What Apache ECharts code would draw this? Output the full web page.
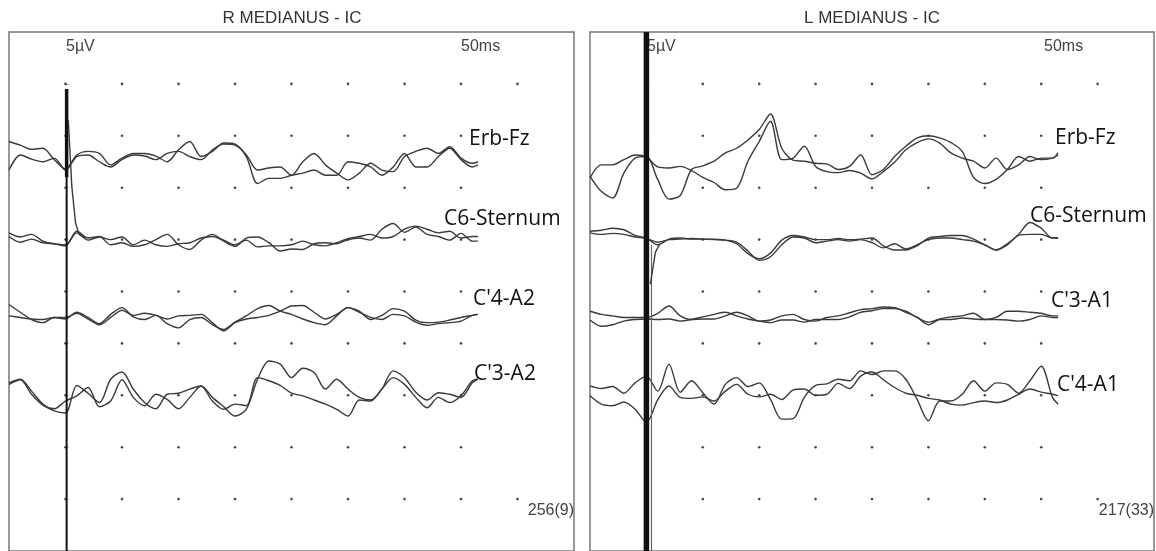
<!DOCTYPE html>
<html>
<head>
<meta charset="utf-8">
<script src="https://cdn.jsdelivr.net/npm/echarts@6/dist/echarts.min.js"></script>
<style>
  html, body { margin: 0; padding: 0; background: #fff; }
  #chart { width: 1156px; height: 551px; }
</style>
</head>
<body>
<div id="chart"></div>
<script>
// time base in ms (stimulus at 0), 1 ms steps, sweep end at 36.5
const timeMs = [-5,-4,-3,-2,-1,0,1,2,3,4,5,6,7,8,9,10,11,12,13,14,15,16,17,18,19,20,21,22,23,24,25,26,27,28,29,30,31,32,33,34,35,36,36.5];

// grid dots / ticks
const dotTimes = [0, 5, 10, 15, 20, 25, 30, 35, 40];
const dotLevels = [5, 10, 15, 20, 25, 30, 35, 40, 45];

// channel names and baselines (µV on the panel scale, 5 µV / div)
const rChannels = ['Erb-Fz', 'C6-Sternum', "C'4-A2", "C'3-A2"];
const lChannels = ['Erb-Fz', 'C6-Sternum', "C'3-A1", "C'4-A1"];
const rOffsets = [38, 30, 22.5, 15];
const lOffsets = [37, 30, 22.5, 15];

// R MEDIANUS - IC, two superimposed runs per channel (µV)
const R_ERB_1 = [1.45,1.1,0.7,0.8,-0.3,-1.2, 0.15,0.5,0.3,-0.8,-0.15,0.3,0.3,0.05,-0.5,0.65, 1.45,0,0.5,1.3,1.2,0.15,-1.3,-1.1,-1,-1.8, -0.5,0.3,-0.8,-1.6,-2.25,-1.6,-0.65,-1.3,-1.45,0, 0.5,0.8,0.3,0.95,-0.15,-0.65,-0.5];
const R_ERB_2 = [-1.3,0.15,-0.25,-0.5,-0.15,-1.3, 0,0.15,-0.5,-1,-0.3,0.15,0.05,-0.3,0.3,0.5, 0,-0.3,0.65,1.2,1.1,0,-2.6,-2.1,-2.1,-1.8, -1.6,-1.3,-1.8,-1.8,-0.5,-0.65,-1,-1.8,-1,0.3, -1,-1,0,0.8,-0.3,-1,-0.8];
const R_C6_1 = [0.65,0.25,0.5,-0.15,-0.4,-0.6, 0.8,0.15,0.3,-0.5,-0.3,-0.65,-0.5,0,0.5,-0.5, -0.95,-0.05,0.5,-0.15,-0.65,0.15,0.25,-0.3,-1.1,-0.9, -0.95,-0.4,-0.3,-0.4,0,0.15,-0.05,1,1.55,0.7, 1.2,0.5,0.3,-0.05,0.6,-0.15,-0.15];
const R_C6_2 = [0.3,-0.25,0.05,-0.3,-0.4,-0.5, 0.65,-0.05,0.25,0,0.25,-0.5,-0.05,-0.5,-0.65,-0.4, -0.3,0.15,0.3,-0.05,-0.5,-0.05,-0.7,-0.6,-0.6,-0.5, -0.15,-0.5,-0.6,-0.3,0.1,0.3,0.5,0.15,0.3,1, 1.3,1,0.65,0.8,0.15,0.3,0.3];
const R_C4_1 = [1.25,0.5,-0.2,-0.5,0,-0.15, 0.5,0,-0.6,0.3,0.95,0.05,-0.2,0.2,-0.6,-1, -0.2,0,-0.7,-1.15,-0.45,0.15,0.85,1.15,0.6,0.3, -0.15,-0.5,-0.7,0.15,0.95,0.6,-0.2,0.2,0.85,0.6, -0.25,-0.5,-0.45,-0.25,0,0.2,0.3];
const R_C4_2 = [0.15,0,-0.15,-0.2,0,0, 0.4,-0.15,-0.7,0,0.7,0.2,0.4,0.2,-0.15,0.15, 0.2,0.3,-0.5,-1.3,-0.5,-0.15,0,0.2,0.6,1.1, 1.15,0.5,-0.15,0.3,0.95,0.5,0,-0.2,0.3,0.15, -0.45,-0.75,-0.6,-0.5,-0.35,0.2,0.3];
const R_C3_1 = [1.2,1.55,0.4,-0.85,-1.5,-1.7, 0.95,0.2,-0.7,1.55,2.25,0.6,-0.7,-1.3,0.1,0.2, 0.6,0.9,-0.2,-1.1,-2,-1.35,1.55,3.3,3,1.7, 2.6,2.2,0.6,1.55,0.6,-0.2,-0.45,0.6,2.35,1.7, 0.3,-0.45,0.25,0.1,-0.2,1.2,1.55];
const R_C3_2 = [1.05,1.5,0.1,-0.95,-1.3,-0.55, -0.05,0.75,-1.1,-0.55,1.5,-0.2,-1,0.1,-0.4,-1.3, -0.2,0.9,-0.55,-1.35,-0.85,-1,1.7,1.4,0.95,0.2, -0.05,-0.45,-0.85,-1.35,-2,-0.45,-0.55,0.6,1.7,1.05, -0.2,-1.2,-0.2,-0.7,-0.05,1.4,1.55];

// L MEDIANUS - IC
const L_ERB_1 = [-0.9,-2.35,-3,-0.6,0.85,1, -1.2,-3.1,-2.75,-0.25,0.1,0.55,1.35,1.8,2.6,3.6, 5.1,1.8,0.65,0.55,0.35,0.3,-0.25,0.05,1.15,-0.75, -0.25,1,2,2.8,3,2.8,2.35,1.5,-1,-1.6, -1.2,-0.25,1,0.55,0.85,0.85,1.35];
const L_ERB_2 = [-1.05,0.2,0.2,0.7,1.15,0.95, 0,-0.1,0.05,-0.35,-1,-1.5,-2.2,-2.05,0.55,2.45, 4.4,0.7,0.85,2,0.05,-0.45,-0.55,-0.35,-0.6,-1.15, -0.45,0.45,1.65,2.35,2.7,2.3,1.35,0.85,0.55,-0.1, 0.85,-0.25,0.2,1,0.7,0.85,1.15];
const L_C6_1 = [0.8,0.9,1.1,0.95,0.4,0.15, -0.5,0.05,0.15,0.05,0.05,0.05,-0.05,-0.25,-1.1,-2, -1.65,-0.5,0.25,0.15,-0.3,-0.15,0,-0.15,0,-0.3, -0.8,-0.4,-0.9,-0.5,0,0.15,0.15,0,-0.15,-0.5, -1,-0.4,0.5,1.65,1.1,0.15,0.15];
const L_C6_2 = [0.65,0.5,0.6,0.5,0.25,0.1, -0.25,0,0.05,0.1,0.05,0,-0.05,-0.4,-1.35,-1.85, -1.3,-0.05,0.4,0.25,0,0,0.1,0,0.05,0.15, -0.6,-1,-1,-0.6,0.15,0.3,0.4,0.4,0.05,-0.5, -1,-0.5,0.4,0.5,0.5,0.15,0.15];
const L_C3_1 = [0.6,0.3,0.15,0,0,0, 0.4,1.1,0.15,-0.2,-0.15,-0.15,0.15,0.5,0.15,-0.35, -0.25,0.15,0.3,-0.2,-0.35,0,0.15,0.45,0.75,0.85, 1,0.95,0.5,0,-0.7,-0.15,0.05,0.15,0.4,-0.2, 0,0.6,0.6,0.5,0.4,0.15,0.15];
const L_C3_2 = [-0.25,-0.85,-0.7,-0.35,-0.2,-0.15, -0.2,-0.15,-0.35,-0.2,0.05,0.3,0.5,0.15,-0.15,-0.35, -0.5,-0.25,-0.25,-0.45,-0.2,-0.2,-0.2,0.05,0.5,0.65, 0.85,0.85,0.6,0,-0.45,-0.2,-0.2,-0.05,-0.15,-0.2, -0.2,-0.25,-0.35,-0.2,0.15,0,0];
const L_C4_1 = [0.9,0.65,0.85,0.2,1.2,1.85, 0.4,3,0.3,1.4,0.25,-0.85,1.05,1.7,0.85,1.2, -0.4,-2.3,-2.25,-0.2,0.95,1.1,1.55,1.4,2.35,2, 2.35,2.35,1.55,-0.4,-2.45,-0.55,-0.55,0.1,1.4,0.4, 1.2,1.05,0.2,1.4,2.8,-0.2,-0.85];
const L_C4_2 = [-0.05,-0.85,-1,-0.65,-1.35,-2.6, -0.45,0.9,-0.2,-0.3,-0.15,-0.55,0.4,1.05,0.1,-0.15, 0.1,-0.4,0.5,0.6,0,0.1,1.15,0.65,1.85,2.25, 1.5,0.75,0.2,0,-0.3,-0.45,-0.85,-0.95,-0.7,-0.55, -0.7,-0.45,0.1,0.6,0.3,0.1,-0.05];

// stimulus artifacts, [ms, panel µV]
const R_STIM_LINE = [[0.1, 44.5], [0.1, -1]];
const R_STIM_SPIKE = [[0.1, 44.5], [0.1, 36]];
const R_C6_TAIL = [[0.25, 41.5], [0.56, 35.1], [0.89, 31.6], [1.2, 30.5], [1.7, 30.2]];
const L_STIM_LINE = [[0, 50], [0, -1]];
const L_STIM_SIDE = [[0.45, 29.5], [0.45, -1]];
const L_C6_TAIL = [[0.35, 25.7], [0.8, 28.8], [1.2, 29.6]];

const rRuns = [[R_ERB_1, R_ERB_2], [R_C6_1, R_C6_2], [R_C4_1, R_C4_2], [R_C3_1, R_C3_2]];
const lRuns = [[L_ERB_1, L_ERB_2], [L_C6_1, L_C6_2], [L_C3_1, L_C3_2], [L_C4_1, L_C4_2]];

const TRACE_COLOR = '#3a3a3a';

function buildDots() {
  const pts = [];
  dotLevels.forEach(function (lv) {
    dotTimes.forEach(function (t) {
      // last column only shown on the outer rows (label area)
      if (t === 40 && lv !== 5 && lv !== 45) return;
      pts.push([t, lv]);
    });
  });
  return pts;
}

function traceSeries(runs, offsets, gi) {
  const out = [];
  runs.forEach(function (pair, ch) {
    pair.forEach(function (vals) {
      out.push({
        type: 'line', xAxisIndex: gi, yAxisIndex: gi,
        data: timeMs.map(function (t, i) { return [t, offsets[ch] + vals[i]]; }),
        symbol: 'none', smooth: 0.3,
        lineStyle: { color: TRACE_COLOR, width: 1.4 },
        z: 3
      });
    });
  });
  return out;
}

function plainLine(data, gi, width, color) {
  return {
    type: 'line', xAxisIndex: gi, yAxisIndex: gi, data: data,
    symbol: 'none', smooth: false,
    lineStyle: { color: color, width: width }, z: 4
  };
}

const chart = echarts.init(document.getElementById('chart'), null, { renderer: 'canvas' });

const grids = [
  { left: 9, top: 32, width: 565, height: 520 },
  { left: 590, top: 32, width: 564, height: 520 }
];

function xAxisFor(gi) {
  return {
    gridIndex: gi, type: 'value', min: -5, max: 45, interval: 5, position: 'top',
    axisLine: { show: false }, axisLabel: { show: false }, splitLine: { show: false },
    axisTick: { inside: true, length: 3, lineStyle: { color: '#999' } }
  };
}
function yAxisFor(gi) {
  return {
    gridIndex: gi, type: 'value', min: 0, max: 50, interval: 5,
    axisLine: { show: false }, axisLabel: { show: false }, splitLine: { show: false },
    axisTick: { inside: true, length: 3, lineStyle: { color: '#999' } }
  };
}

const series = [];
[0, 1].forEach(function (gi) {
  series.push({
    type: 'scatter', xAxisIndex: gi, yAxisIndex: gi, data: buildDots(),
    symbol: 'circle', symbolSize: 2.6, itemStyle: { color: '#1a1a1a' }, z: 2, silent: true
  });
});
series.push.apply(series, traceSeries(rRuns, rOffsets, 0));
series.push.apply(series, traceSeries(lRuns, lOffsets, 1));
series.push(plainLine(R_STIM_LINE, 0, 2, '#111'));
series.push(plainLine(R_STIM_SPIKE, 0, 3.5, '#111'));
series.push(plainLine(R_C6_TAIL, 0, 1.4, TRACE_COLOR));
series.push(plainLine(L_STIM_LINE, 1, 5.5, '#111'));
series.push(plainLine(L_STIM_SIDE, 1, 1.2, '#666'));
series.push(plainLine(L_C6_TAIL, 1, 1.4, TRACE_COLOR));

const smallFont = '16px "Liberation Sans", Arial, sans-serif';
const titleFont = '17px "Liberation Sans", Arial, sans-serif';
const chanFont = '21px "Open Sans", sans-serif';

function txt(text, x, y, font, color, align) {
  return {
    type: 'text', z: 1,
    style: { text: text, x: x, y: y, font: font, fill: color, textAlign: align || 'left', textVerticalAlign: 'middle' }
  };
}

const graphics = [
  txt('R MEDIANUS - IC', 292, 18, titleFont, '#333', 'center'),
  txt('L MEDIANUS - IC', 872, 18, titleFont, '#333', 'center'),
  txt('5µV', 66, 47, smallFont, '#444'),
  txt('50ms', 461, 47, smallFont, '#444'),
  txt('5µV', 647, 47, smallFont, '#444'),
  txt('50ms', 1044, 47, smallFont, '#444'),
  txt('256(9)', 574, 511, smallFont, '#444', 'right'),
  txt('217(33)', 1154, 511, smallFont, '#444', 'right'),
  txt(rChannels[0], 469, 139, chanFont, '#111'),
  txt(rChannels[1], 444, 219, chanFont, '#111'),
  txt(rChannels[2], 473, 299, chanFont, '#111'),
  txt(rChannels[3], 474, 374, chanFont, '#111'),
  txt(lChannels[0], 1055, 138, chanFont, '#111'),
  txt(lChannels[1], 1030, 216, chanFont, '#111'),
  txt(lChannels[2], 1051, 301, chanFont, '#111'),
  txt(lChannels[3], 1057, 385, chanFont, '#111')
];

chart.setOption({
  animation: false,
  backgroundColor: '#fff',
  grid: grids.map(function (g) {
    return Object.assign({ show: true, borderColor: '#777', borderWidth: 1.5, backgroundColor: 'transparent' }, g);
  }),
  xAxis: [xAxisFor(0), xAxisFor(1)],
  yAxis: [yAxisFor(0), yAxisFor(1)],
  graphic: graphics,
  series: series
});
</script>
</body>
</html>
